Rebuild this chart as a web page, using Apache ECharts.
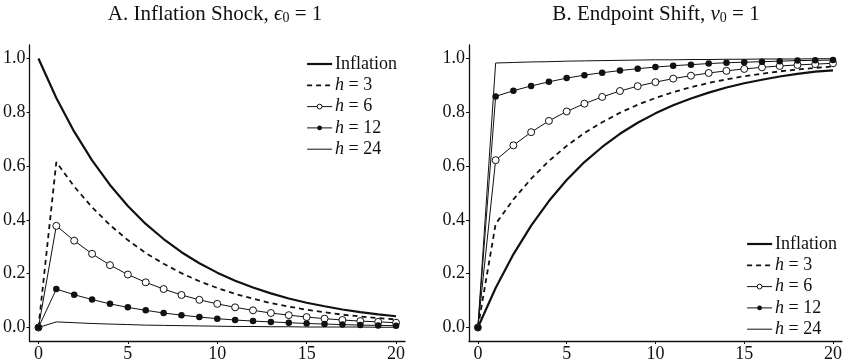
<!DOCTYPE html>
<html>
<head>
<meta charset="utf-8">
<script src="https://cdn.jsdelivr.net/npm/echarts@6/dist/echarts.min.js"></script>
<style>
  html, body { margin: 0; padding: 0; background: #fff; }
  #chart { width: 845px; height: 363px; }
</style>
</head>
<body>
<div id="chart"></div>
<script>
// horizon in periods
const steps = [0, 1, 2, 3, 4, 5, 6, 7, 8, 9, 10, 11, 12, 13, 14, 15, 16, 17, 18, 19, 20]
const xTicks = [0, 5, 10, 15, 20]
const yTicks = [0, 0.2, 0.4, 0.6, 0.8, 1.0]
const names = ['Inflation', 'h = 3', 'h = 6', 'h = 12', 'h = 24']

// panel A: inflation shock
const infA = [1.000, 0.853, 0.728, 0.621, 0.530, 0.452, 0.385, 0.329, 0.280, 0.239, 0.204, 0.174, 0.149, 0.127, 0.108, 0.092, 0.079, 0.067, 0.057, 0.049, 0.042]
const h3A = [0, 0.615, 0.524, 0.447, 0.381, 0.325, 0.277, 0.237, 0.202, 0.172, 0.147, 0.125, 0.107, 0.091, 0.078, 0.066, 0.057, 0.048, 0.041, 0.035, 0.030]
const h6A = [0, 0.378, 0.323, 0.274, 0.232, 0.197, 0.168, 0.143, 0.121, 0.103, 0.088, 0.075, 0.064, 0.054, 0.046, 0.039, 0.033, 0.028, 0.024, 0.021, 0.018]
const h12A = [0, 0.143, 0.122, 0.104, 0.088, 0.075, 0.064, 0.054, 0.046, 0.039, 0.033, 0.028, 0.024, 0.021, 0.018, 0.015, 0.013, 0.011, 0.009, 0.008, 0.007]
const h24A = [0, 0.021, 0.018, 0.015, 0.013, 0.011, 0.009, 0.008, 0.007, 0.006, 0.005, 0.004, 0.004, 0.003, 0.003, 0.002, 0.002, 0.002, 0.002, 0.001, 0.001]

// panel B: endpoint shift
const infB = [0, 0.147, 0.272, 0.379, 0.470, 0.548, 0.615, 0.671, 0.720, 0.761, 0.796, 0.826, 0.851, 0.873, 0.892, 0.908, 0.921, 0.933, 0.943, 0.951, 0.956]
const h3B = [0, 0.385, 0.476, 0.553, 0.619, 0.675, 0.723, 0.763, 0.798, 0.828, 0.853, 0.875, 0.893, 0.909, 0.922, 0.934, 0.943, 0.952, 0.959, 0.965, 0.970]
const h6B = [0, 0.622, 0.677, 0.726, 0.768, 0.803, 0.832, 0.857, 0.879, 0.897, 0.912, 0.925, 0.936, 0.946, 0.954, 0.961, 0.967, 0.972, 0.976, 0.979, 0.982]
const h12B = [0, 0.859, 0.880, 0.898, 0.913, 0.927, 0.938, 0.947, 0.955, 0.962, 0.968, 0.973, 0.977, 0.981, 0.984, 0.986, 0.988, 0.990, 0.992, 0.993, 0.994]
const h24B = [0, 0.983, 0.985, 0.987, 0.988, 0.990, 0.991, 0.992, 0.993, 0.994, 0.995, 0.995, 0.996, 0.996, 0.997, 0.997, 0.998, 0.998, 0.998, 0.999, 0.999]

const serif = '"Liberation Serif", "DejaVu Serif", serif'
const ink = '#111'

const styles = {
  'Inflation': { lineStyle: { width: 2.2, color: ink }, itemStyle: { color: ink }, symbol: 'none' },
  'h = 3': { lineStyle: { width: 1.8, color: ink, type: [5, 4] }, itemStyle: { color: ink }, symbol: 'none' },
  'h = 6': { lineStyle: { width: 1, color: ink }, symbol: 'circle', symbolSize: 7, itemStyle: { color: '#fff', borderColor: ink, borderWidth: 1 } },
  'h = 12': { lineStyle: { width: 1, color: ink }, symbol: 'circle', symbolSize: 6.5, itemStyle: { color: ink } },
  'h = 24': { lineStyle: { width: 1, color: ink }, itemStyle: { color: ink }, symbol: 'none' }
}
const noMarker = ['Inflation', 'h = 3', 'h = 24']

function line(name, values, idx) {
  return Object.assign({
    type: 'line',
    name: name,
    xAxisIndex: idx,
    yAxisIndex: idx,
    data: steps.map((s, i) => [s, values[i]]),
    showAllSymbol: true,
    smooth: false,
    silent: true
  }, styles[name])
}

function xAxis(idx) {
  return {
    type: 'value', gridIndex: idx, min: -0.5, max: 20.5,
    splitLine: { show: false },
    axisLine: { show: true, onZero: false, lineStyle: { color: ink, width: 1.3 } },
    axisTick: { show: true, customValues: xTicks, length: 3, lineStyle: { color: ink } },
    axisLabel: { customValues: xTicks, margin: 4, fontFamily: serif, fontSize: 18, color: ink }
  }
}

function yAxis(idx) {
  return {
    type: 'value', gridIndex: idx, min: -0.05, max: 1.05,
    splitLine: { show: false },
    axisLine: { show: true, onZero: false, lineStyle: { color: ink, width: 1.3 } },
    axisTick: { show: true, customValues: yTicks, length: 3, lineStyle: { color: ink } },
    axisLabel: { customValues: yTicks, margin: 4, fontFamily: serif, fontSize: 18, color: ink, formatter: v => v.toFixed(1) }
  }
}

function legend(left, top) {
  return {
    data: names.map(n => ({
      name: n,
      lineStyle: { width: styles[n].lineStyle.width },
      itemStyle: noMarker.includes(n) ? { opacity: 0 } : { borderWidth: 1 }
    })),
    left: left, top: top, orient: 'vertical',
    itemWidth: 25, itemHeight: 6, itemGap: 3.3,
    selectedMode: false,
    formatter: n => n.replace('h', '{i|h}'),
    textStyle: {
      fontFamily: serif, fontSize: 18, color: ink, lineHeight: 18, padding: [0, 0, 0, -2],
      rich: { i: { fontFamily: serif, fontSize: 18, fontStyle: 'italic', color: ink, lineHeight: 18 } }
    }
  }
}

const titleRich = {
  g: { fontFamily: serif, fontSize: 21, fontStyle: 'italic', fill: ink },
  s: { fontFamily: serif, fontSize: 14, fill: ink, lineHeight: 8, verticalAlign: 'bottom' }
}

const chart = echarts.init(document.getElementById('chart'))
chart.setOption({
  animation: false,
  backgroundColor: '#fff',
  graphic: [
    { type: 'text', x: 215, y: 4, style: { text: 'A. Inflation Shock, {g|ϵ}{s|0} = 1', align: 'center', verticalAlign: 'top', fontFamily: serif, fontSize: 21, fill: ink, rich: titleRich } },
    { type: 'text', x: 656, y: 4, style: { text: 'B. Endpoint Shift, {g|ν}{s|0} = 1', align: 'center', verticalAlign: 'top', fontFamily: serif, fontSize: 21, fill: ink, rich: titleRich } }
  ],
  grid: [
    { left: 29, top: 45, width: 376, height: 296 },
    { left: 469, top: 45, width: 376, height: 296 }
  ],
  xAxis: [xAxis(0), xAxis(1)],
  yAxis: [yAxis(0), yAxis(1)],
  legend: [legend(301, 50), legend(741, 230)],
  series: [
    line('Inflation', infA, 0), line('h = 3', h3A, 0), line('h = 6', h6A, 0), line('h = 12', h12A, 0), line('h = 24', h24A, 0),
    line('Inflation', infB, 1), line('h = 3', h3B, 1), line('h = 6', h6B, 1), line('h = 12', h12B, 1), line('h = 24', h24B, 1)
  ]
})
</script>
</body>
</html>
